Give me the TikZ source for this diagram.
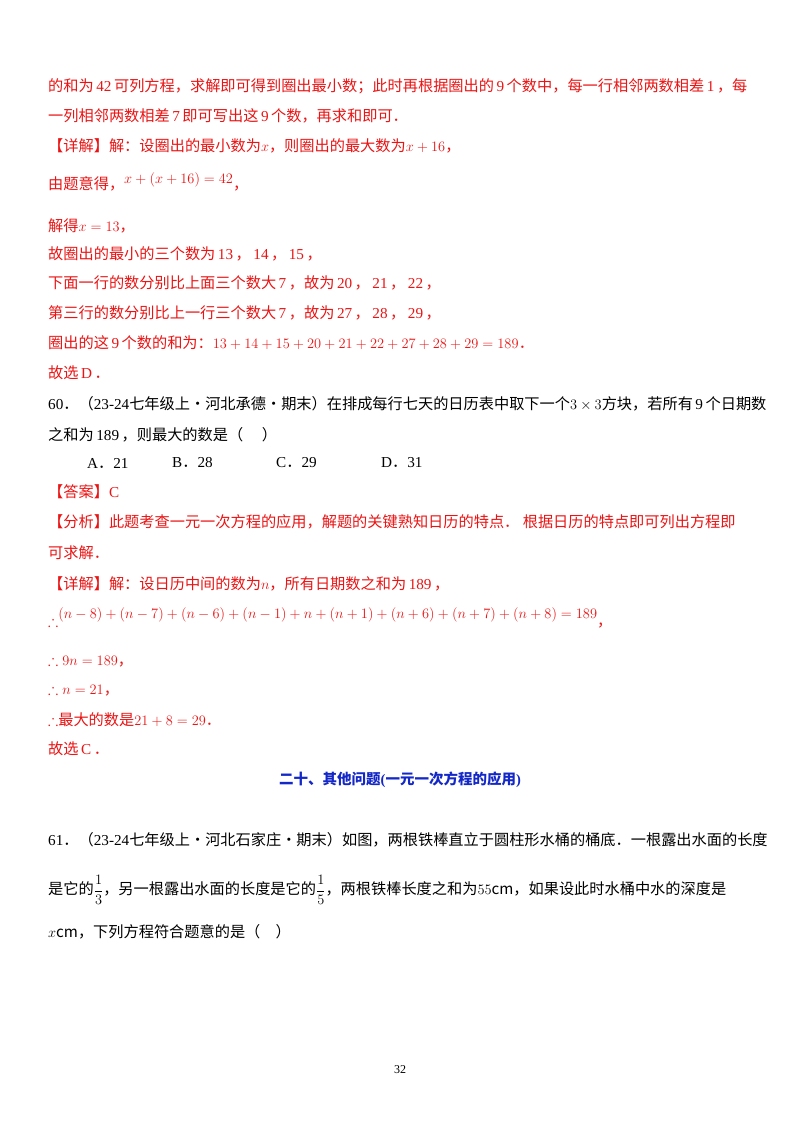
\documentclass[tikz,border=0pt]{standalone}
\usepackage{amsmath,amssymb}
\usepackage{fontspec}
\setmainfont{Noto Sans CJK SC}
\newfontfamily\latf{Liberation Serif}
\newcommand{\nm}[1]{\,{\latf #1}\,}
\definecolor{rd}{RGB}{235,20,20}
\definecolor{bl}{RGB}{20,40,200}
\begin{document}
\begin{tikzpicture}[x=1pt,y=-1pt,
  t/.style={anchor=west,inner sep=0pt,font=\fontsize{15.2}{17}\selectfont},
  r/.style={t,text=rd}]
\useasboundingbox[fill=white] (0,0) rectangle (800,1132);
\node[r] (l1) at (48,86) {的和为\nm{42}可列方程，求解即可得到圈出最小数；此时再根据圈出的\nm{9}个数中，每一行相邻两数相差\nm{1}，每};
\node[r] (l2) at (48,116) {一列相邻两数相差\nm{7}即可写出这\nm{9}个数，再求和即可．};
\node[r] (l3) at (48,146) {【详解】解：设圈出的最小数为$x$，则圈出的最大数为$x+16$，};
\node[r] (l4) at (48,182) {由题意得，\raisebox{6pt}{$x+(x+16)=42$}，};
\node[r] (l5) at (48,226) {解得$x=13$，};
\node[r] (l6) at (48,254) {故圈出的最小的三个数为\nm{13}，\nm{14}，\nm{15}，};
\node[r] (l7) at (48,283) {下面一行的数分别比上面三个数大\nm{7}，故为\nm{20}，\nm{21}，\nm{22}，};
\node[r] (l8) at (48,313) {第三行的数分别比上一行三个数大\nm{7}，故为\nm{27}，\nm{28}，\nm{29}，};
\node[r] (l9) at (48,343) {圈出的这\nm{9}个数的和为：$13+14+15+20+21+22+27+28+29=189$．};
\node[r] (l10) at (48,373) {故选\nm{D}．};
\node[t] (q1) at (48,404) {{\latf 60}．（{\latf 23-24}七年级上·河北承德·期末）在排成每行七天的日历表中取下一个$3\times3$方块，若所有\nm{9}个日期数};
\node[t] (q2) at (48,435) {之和为\nm{189}，则最大的数是（\quad\ ）};
\node[t] (oa) at (87,463) {{\latf A}．{\latf 21}};
\node[t] (ob) at (172,463) {{\latf B}．{\latf 28}};
\node[t] (oc) at (276,463) {{\latf C}．{\latf 29}};
\node[t] (od) at (381,463) {{\latf D}．{\latf 31}};
\node[r] (a1) at (48,492) {【答案】{\latf C}};
\node[r] (a2) at (48,522) {【分析】此题考查一元一次方程的应用，解题的关键熟知日历的特点．\ 根据日历的特点即可列出方程即};
\node[r] (a3) at (48,553) {可求解．};
\node[r] (a4) at (48,584) {【详解】解：设日历中间的数为$n$，所有日期数之和为\nm{189}，};
\node[r] (a5) at (48,618) {$\therefore$\raisebox{8pt}{$(n-8)+(n-7)+(n-6)+(n-1)+n+(n+1)+(n+6)+(n+7)+(n+8)=189$}，};
\node[r] (a6) at (48,661) {$\therefore 9n=189$，};
\node[r] (a7) at (48,690) {$\therefore n=21$，};
\node[r] (a8) at (48,720) {$\therefore$最大的数是$21+8=29$．};
\node[r] (a9) at (48,749) {故选\nm{C}．};
\node[anchor=center,inner sep=0pt,text=bl,font=\fontsize{14.5}{16}\selectfont\bfseries] (h) at (400,780) {二十、其他问题{\latf\bfseries (}一元一次方程的应用{\latf\bfseries )}};
\node[t] (p1) at (48,840) {{\latf 61}．（{\latf 23-24}七年级上·河北石家庄·期末）如图，两根铁棒直立于圆柱形水桶的桶底．一根露出水面的长度};
\node[t] (p2) at (48,890) {是它的$\dfrac13$，另一根露出水面的长度是它的$\dfrac15$，两根铁棒长度之和为$55\mathrm{cm}$，如果设此时水桶中水的深度是};
\node[t] (p3) at (48,932) {$x\mathrm{cm}$，下列方程符合题意的是（\quad）};
\node[anchor=center,inner sep=0pt,font=\latf\fontsize{12}{14}\selectfont] (pg) at (400,1070) {32};
\end{tikzpicture}
\end{document}
